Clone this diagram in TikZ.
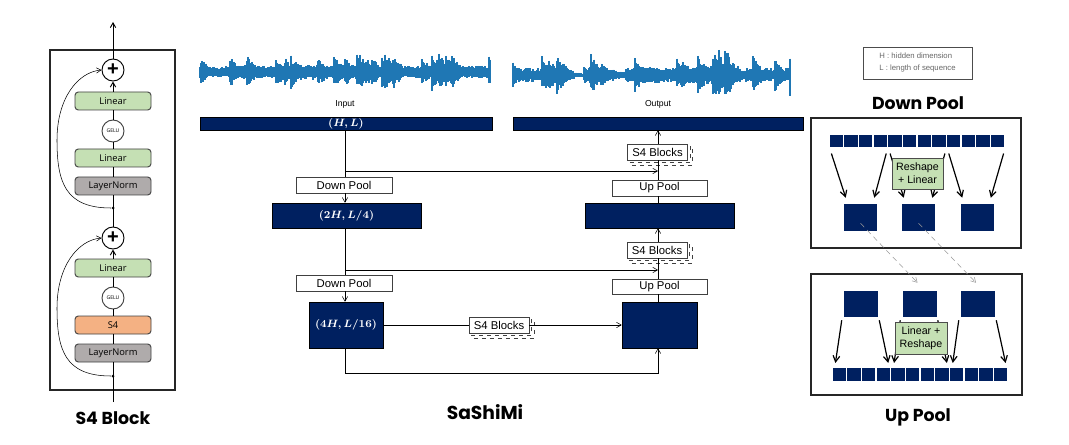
\documentclass[tikz,border=0pt]{standalone}
\usepackage{amsmath}
\usepackage{fontspec}
\setmainfont{Liberation Sans}
\newfontfamily\blockfont{Open Sans}
\newfontfamily\titlefont{Poppins}
\usetikzlibrary{arrows.meta,shadows,backgrounds}
\definecolor{navy}{HTML}{002060}
\definecolor{wave}{HTML}{1F77B4}
\definecolor{lingreen}{HTML}{C5E0B4}
\definecolor{normgray}{HTML}{AFABAB}
\definecolor{ssmorange}{HTML}{F4B183}
\newdimen\pxu
\pxu=0.75pt

\begin{document}
\begin{tikzpicture}[x=0.75pt,y=-0.75pt,line width=0.7pt,>={Straight Barb[length=3.5pt,width=4pt]}]
	\tikzstyle{layer}=[draw=black!75, rounded corners=2.5pt, minimum width=76\pxu, minimum height=18\pxu, inner sep=0pt, font=\blockfont\fontsize{7}{8}\selectfont]
	\tikzstyle{linear}=[layer, fill=lingreen]
	\tikzstyle{norm}=[layer, fill=normgray]
	\tikzstyle{ssm}=[layer, fill=ssmorange]
	\tikzstyle{gelu}=[circle, draw=black!75, fill=white, minimum size=22\pxu, inner sep=0pt, font=\blockfont\fontsize{3.8}{4}\selectfont]
	\tikzstyle{plus}=[circle, draw=black, fill=white, minimum size=22\pxu, inner sep=0pt, font=\fontsize{15}{15}\selectfont\bfseries]
	\tikzstyle{junction}=[circle, fill=black, minimum size=3\pxu, inner sep=0pt]
	\tikzstyle{bar}=[fill=navy, draw=black, text=white, inner sep=0pt, font=\fontsize{8.5}{9}\selectfont\boldmath]
	\tikzstyle{pool}=[draw=black!75, fill=white, minimum width=96\pxu, minimum height=16\pxu, inner sep=0pt, font=\fontsize{8.5}{9}\selectfont]
	\tikzstyle{blocks}=[pool, minimum width=60\pxu,
		copy shadow={shadow xshift=3.6pt, shadow yshift=-3.6pt, dashed, draw=black!75},
		copy shadow={shadow xshift=1.8pt, shadow yshift=-1.8pt, dashed, draw=black!75}]
	\tikzstyle{cell}=[fill=navy, minimum width=13.3\pxu, minimum height=12.5\pxu, inner sep=0pt]
	\tikzstyle{patch}=[fill=navy, minimum width=33\pxu, minimum height=27\pxu, inner sep=0pt]
	\tikzstyle{mixer}=[draw=black!70, fill=lingreen, minimum width=51\pxu, minimum height=31\pxu, inner sep=0pt, align=center, font=\fontsize{8}{10}\selectfont]
	\tikzstyle{flow}=[->, line width=0.9pt, >={Straight Barb[length=4.5pt,width=5pt]}]
	\tikzstyle{frame}=[draw=black!85, line width=1pt]
	\tikzstyle{title}=[font=\titlefont\bfseries\fontsize{13}{13}\selectfont]
	\tikzstyle{annot}=[font=\fontsize{6.5}{7}\selectfont]

	\useasboundingbox (0,0) rectangle (1069,445);

	% Draw the S4 block
	\draw[frame] (50,50) rectangle (175,390);
	\node[plus] (plusA) at (113,70) {+};
	\node[linear] (linA1) at (113,101) {Linear};
	\node[gelu] (geluA) at (113,131) {GELU};
	\node[linear] (linA2) at (113,158) {Linear};
	\node[norm] (normA) at (113,186) {LayerNorm};
	\node[junction] (dotA) at (113,208) {};
	\node[plus] (plusB) at (113,238) {+};
	\node[linear] (linB) at (113,268) {Linear};
	\node[gelu] (geluB) at (113,298) {GELU};
	\node[ssm] (s4B) at (113,325) {S4};
	\node[norm] (normB) at (113,353) {LayerNorm};
	\node[junction] (dotB) at (113,376) {};
	\coordinate (blkIn) at (113,402);
	\coordinate (blkOut) at (113,22);

	\draw (blkIn) -- (normB);
	\draw (normB) -- (s4B);
	\draw (s4B) -- (geluB);
	\draw (geluB) -- (linB);
	\draw[->] (linB) -- (plusB);
	\draw (plusB) -- (normA);
	\draw (normA) -- (linA2);
	\draw (linA2) -- (geluA);
	\draw (geluA) -- (linA1);
	\draw[->] (linA1) -- (plusA);
	\draw[->] (plusA) -- (blkOut);
	\begin{pgfonlayer}{background}
		\draw[->] (dotA) .. controls (65,208) and (57,182) .. (57,140) .. controls (57,98) and (78,72) .. (plusA.west);
		\draw[->] (dotB) .. controls (65,376) and (57,350) .. (57,308) .. controls (57,266) and (78,240) .. (plusB.west);
	\end{pgfonlayer}
	\node[title] (blkTitle) at (113,418) {S4 Block};

	% Draw the waveforms
	\pgfmathsetseed{11}
	\xdef\envprev{8}
	\foreach \xa/\xb/\amp in {200/230/8,231/260/10,261/290/9,291/320/11,321/350/10,351/380/10,381/420/9,421/460/10,461/490/9}
		\foreach \x in {\xa,...,\xb}{
			\pgfmathsetmacro\env{rnd<0.08 ? \amp*(1.5+0.6*rnd) : max(\amp*0.7, \envprev*0.9)}
			\xdef\envprev{\env}
			\pgfmathsetmacro\hu{\env*(0.55+0.45*rnd)}
			\pgfmathsetmacro\hd{\env*(0.55+0.45*rnd)}
			\draw[wave, line width=0.9pt] (\x,72-\hu) -- (\x,72+\hd);
		}
	\foreach \xa/\xb/\amp in {513/560/10,561/567/6,568/583/1.5,584/600/12,601/615/8,616/625/5,626/640/11,641/660/12,661/687/10,688/727/13,728/745/5,746/775/10,776/790/10}
		\foreach \x in {\xa,...,\xb}{
			\pgfmathsetmacro\env{rnd<0.08 ? \amp*(1.5+0.6*rnd) : max(\amp*0.7, \envprev*0.9)}
			\xdef\envprev{\env}
			\pgfmathsetmacro\hu{\env*(0.55+0.45*rnd)}
			\pgfmathsetmacro\hd{\env*(0.55+0.45*rnd)}
			\draw[wave, line width=0.9pt] (\x,75-\hu) -- (\x,75+\hd);
		}
	\node[annot] (lblIn) at (345,104) {Input};
	\node[annot] (lblOut) at (658,104) {Output};

	% Draw the SaShiMi encoder column
	\node[bar, minimum width=292\pxu, minimum height=13\pxu] (barIn) at (346,123.5) {$\boldsymbol{(H,L)}$};
	\node[pool] (dpA) at (344,185) {Down Pool};
	\node[bar, minimum width=149\pxu, minimum height=25\pxu] (barL2) at (346.5,215.5) {$\boldsymbol{(2H,L/4)}$};
	\node[pool] (dpB) at (344,283) {Down Pool};
	\node[bar, minimum width=74\pxu, minimum height=46\pxu] (barL3) at (346,325) {$\boldsymbol{(4H,L/16)}$};

	% Draw the SaShiMi decoder column
	\node[bar, minimum width=290\pxu, minimum height=13\pxu] (barOut) at (658,123.5) {};
	\node[blocks] (s4R1) at (657.5,152) {S4 Blocks};
	\node[pool, minimum width=95\pxu] (upA) at (659.5,188) {Up Pool};
	\node[bar, minimum width=149\pxu, minimum height=25\pxu] (barR2) at (659.5,215.5) {};
	\node[blocks] (s4R2) at (657,250) {S4 Blocks};
	\node[pool, minimum width=95\pxu, minimum height=15\pxu] (upB) at (659.5,286.5) {Up Pool};
	\node[bar, minimum width=75\pxu, minimum height=46\pxu] (barR3) at (659.5,325) {};
	\node[blocks] (s4mid) at (499,325) {S4 Blocks};

	% Connect the columns
	\draw (barIn.south -| 345,0) -- (dpA.north -| 345,0);
	\draw[->] (dpA.south -| 345,0) -- (barL2.north -| 345,0);
	\draw (barL2.south -| 345,0) -- (dpB.north -| 345,0);
	\draw[->] (dpB.south -| 345,0) -- (barL3.north -| 345,0);
	\draw (barR3.north -| 658,0) -- (upB.south -| 658,0);
	\draw (upB.north -| 658,0) -- (s4R2.south -| 658,0);
	\draw[->] (s4R2.north -| 658,0) -- (barR2.south -| 658,0);
	\draw (barR2.north -| 658,0) -- (upA.south -| 658,0);
	\draw (upA.north -| 658,0) -- (s4R1.south -| 658,0);
	\draw[->] (s4R1.north -| 658,0) -- (barOut.south -| 658,0);
	\draw (barL3) -- (s4mid);
	\draw[->] (s4mid) -- (barR3);
	\coordinate (skipA) at (345,171);
	\coordinate (skipB) at (345,270);
	\draw[->] (skipA) -- (skipA -| 658,0);
	\draw[->] (skipB) -- (skipB -| 658,0);
	\draw[->] (barL3.south -| 345,0) -- ++(0,25) -| (barR3.south -| 658,0);
	\node[title, font=\titlefont\bfseries\fontsize{14}{14}\selectfont] (sashimi) at (485,412) {SaShiMi};

	% Draw the legend
	\node[draw=black!70, minimum width=109\pxu, minimum height=32\pxu, align=left, text=black!60, font=\fontsize{5.8}{9}\selectfont] (legend) at (917.5,63) {H : hidden dimension\\ L : length of sequence};

	% Draw the Down Pool panel
	\node[title] (dpTitle) at (918,103) {Down Pool};
	\draw[frame] (811,118) rectangle (1021,248);
	\foreach \i in {1,...,12}
		\node[cell] (ds-\i) at ({836.3+14.67*(\i-1)},141) {};
	\foreach \g/\x in {1/860.5,2/918.5,3/977}
		\node[patch] (db-\g) at (\x,217.5) {};
	\foreach \g in {1,2,3}{
		\pgfmathtruncatemacro\a{4*\g-3}
		\pgfmathtruncatemacro\b{4*\g}
		\draw[flow] ([shift={(2,6)}]ds-\a.south west) -- ([shift={(2,-6)}]db-\g.north west);
		\draw[flow] ([shift={(-1,6)}]ds-\b.south east) -- ([shift={(-3,-6)}]db-\g.north east);
	}
	\node[mixer] (reshapeLin) at (917.5,173.5) {Reshape\\+ Linear};

	% Draw the Up Pool panel
	\draw[frame] (811,274) rectangle (1022,395);
	\foreach \g/\x in {1/861,2/919.5,3/978}
		\node[patch, minimum width=34\pxu, minimum height=26\pxu] (ub-\g) at (\x,304) {};
	\foreach \i in {1,...,12}
		\node[cell] (us-\i) at ({839.3+14.67*(\i-1)},374.5) {};
	\foreach \g in {1,2,3}{
		\pgfmathtruncatemacro\a{4*\g-3}
		\pgfmathtruncatemacro\b{4*\g}
		\draw[flow] ([shift={(-2,3)}]ub-\g.south west) -- ([shift={(3,-5)}]us-\a.north west);
		\draw[flow] ([shift={(1,3)}]ub-\g.south east) -- ([shift={(-2,-5)}]us-\b.north east);
	}
	\node[mixer, minimum width=52\pxu, minimum height=32\pxu] (linReshape) at (921,338) {Linear +\\Reshape};
	\node[title] (upTitle) at (918,417) {Up Pool};

	% Connect the two panels
	\draw[->, black!40, dash pattern=on 4pt off 3pt] ([yshift=6]db-1.south) -- ([shift={(-2,-8)}]ub-2.north);
	\draw[->, black!40, dash pattern=on 4pt off 3pt] ([yshift=6]db-2.south) -- ([shift={(-2,-8)}]ub-3.north);
\end{tikzpicture}
\end{document}
